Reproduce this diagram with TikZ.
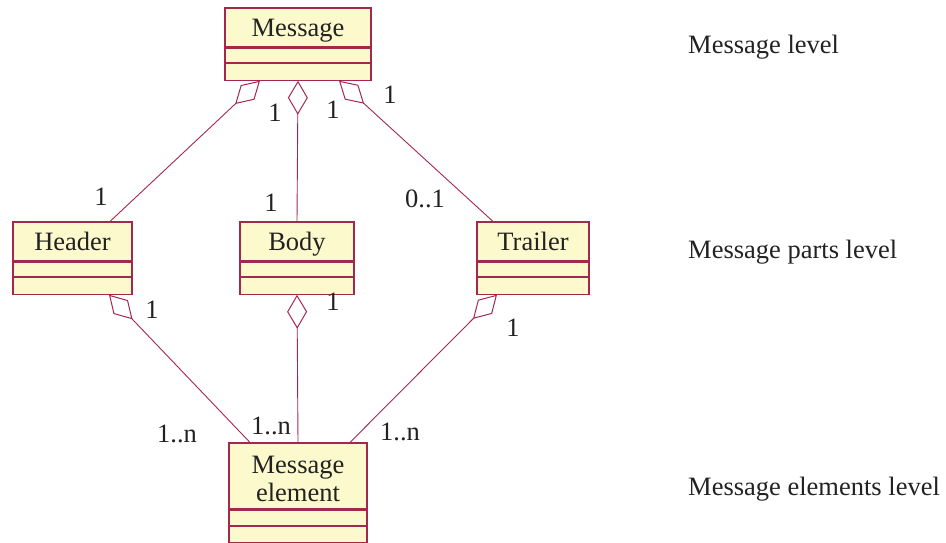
\documentclass[tikz,border=0pt]{standalone}
\usepackage{fontspec}
\setmainfont{Liberation Serif}
\usetikzlibrary{arrows.meta, positioning}

\definecolor{umlline}{HTML}{A3284F}
\definecolor{umlfill}{HTML}{FCF9CD}
\definecolor{umltext}{HTML}{222222}

\begin{document}
\begin{tikzpicture}[
  x=1pt, y=-1pt,
  font=\fontsize{26.5}{28}\selectfont, text=umltext,
  head/.style={rectangle, draw=umlline, fill=umlfill, line width=1.1pt,
    inner sep=0pt, align=center, text height=18pt, text depth=0pt},
  comp/.style={rectangle, draw=umlline, fill=umlfill, line width=1.1pt,
    inner sep=0pt},
  agg/.style={{Diamond[open, length=34pt, width=20pt, line width=1pt]}-,
    draw=umlline, line width=0.9pt},
  mult/.style={inner sep=0pt},
  lvl/.style={anchor=west, inner sep=0pt}
]
\useasboundingbox (0,0) rectangle (946,543);

% message level
\node[head, minimum width=146, minimum height=39] (msg) at (298,27.5) {Message};
\node[comp, below=0pt of msg, minimum width=146, minimum height=14] (msg2) {};
\node[comp, below=0pt of msg2, minimum width=146, minimum height=17] (msg3) {};

% message parts level
\node[head, minimum width=119, minimum height=39] (hdr) at (72.5,241.5) {Header};
\node[comp, below=0pt of hdr, minimum width=119, minimum height=14] (hdr2) {};
\node[comp, below=0pt of hdr2, minimum width=119, minimum height=17] (hdr3) {};

\node[head, minimum width=114, minimum height=39] (body) at (297,241.5) {Body};
\node[comp, below=0pt of body, minimum width=114, minimum height=14] (body2) {};
\node[comp, below=0pt of body2, minimum width=114, minimum height=17] (body3) {};

\node[head, minimum width=112, minimum height=39] (trl) at (533,241.5) {Trailer};
\node[comp, below=0pt of trl, minimum width=112, minimum height=14] (trl2) {};
\node[comp, below=0pt of trl2, minimum width=112, minimum height=17] (trl3) {};

% message elements level
\node[head, text height=50pt, minimum width=138, minimum height=66] (elem) at (298,476)
  {Message\\ element};
\node[comp, below=0pt of elem, minimum width=138, minimum height=15] (elem2) {};
\node[comp, below=0pt of elem2, minimum width=138, minimum height=16] (elem3) {};

% aggregations
\draw[agg] ([xshift=-38pt]msg3.south) -- ([xshift=37.5pt]hdr.north);
\draw[agg] (msg3.south) -- (body.north);
\draw[agg] ([xshift=41pt]msg3.south) -- ([xshift=-40pt]trl.north);
\draw[agg] ([xshift=36.5pt]hdr3.south) -- ([xshift=-48pt]elem.north);
\draw[agg] (body3.south) -- (elem.north);
\draw[agg] ([xshift=-36pt]trl3.south) -- ([xshift=52pt]elem.north);

% multiplicities
\node[mult] (m1) at (275,113) {1};
\node[mult] (m2) at (333,110) {1};
\node[mult] (m3) at (390,95) {1};
\node[mult] (m4) at (101,197) {1};
\node[mult] (m5) at (271,203) {1};
\node[mult] (m6) at (425,199) {0..1};
\node[mult] (m7) at (152,310) {1};
\node[mult] (m8) at (333,302) {1};
\node[mult] (m9) at (513,328) {1};
\node[mult] (m10) at (177,434) {1..n};
\node[mult] (m11) at (271,426) {1..n};
\node[mult] (m12) at (400,432) {1..n};

% levels
\node[lvl] (l1) at (688,47) {Message level};
\node[lvl] (l2) at (688,252) {Message parts level};
\node[lvl] (l3) at (688,489) {Message elements level};
\end{tikzpicture}
\end{document}
